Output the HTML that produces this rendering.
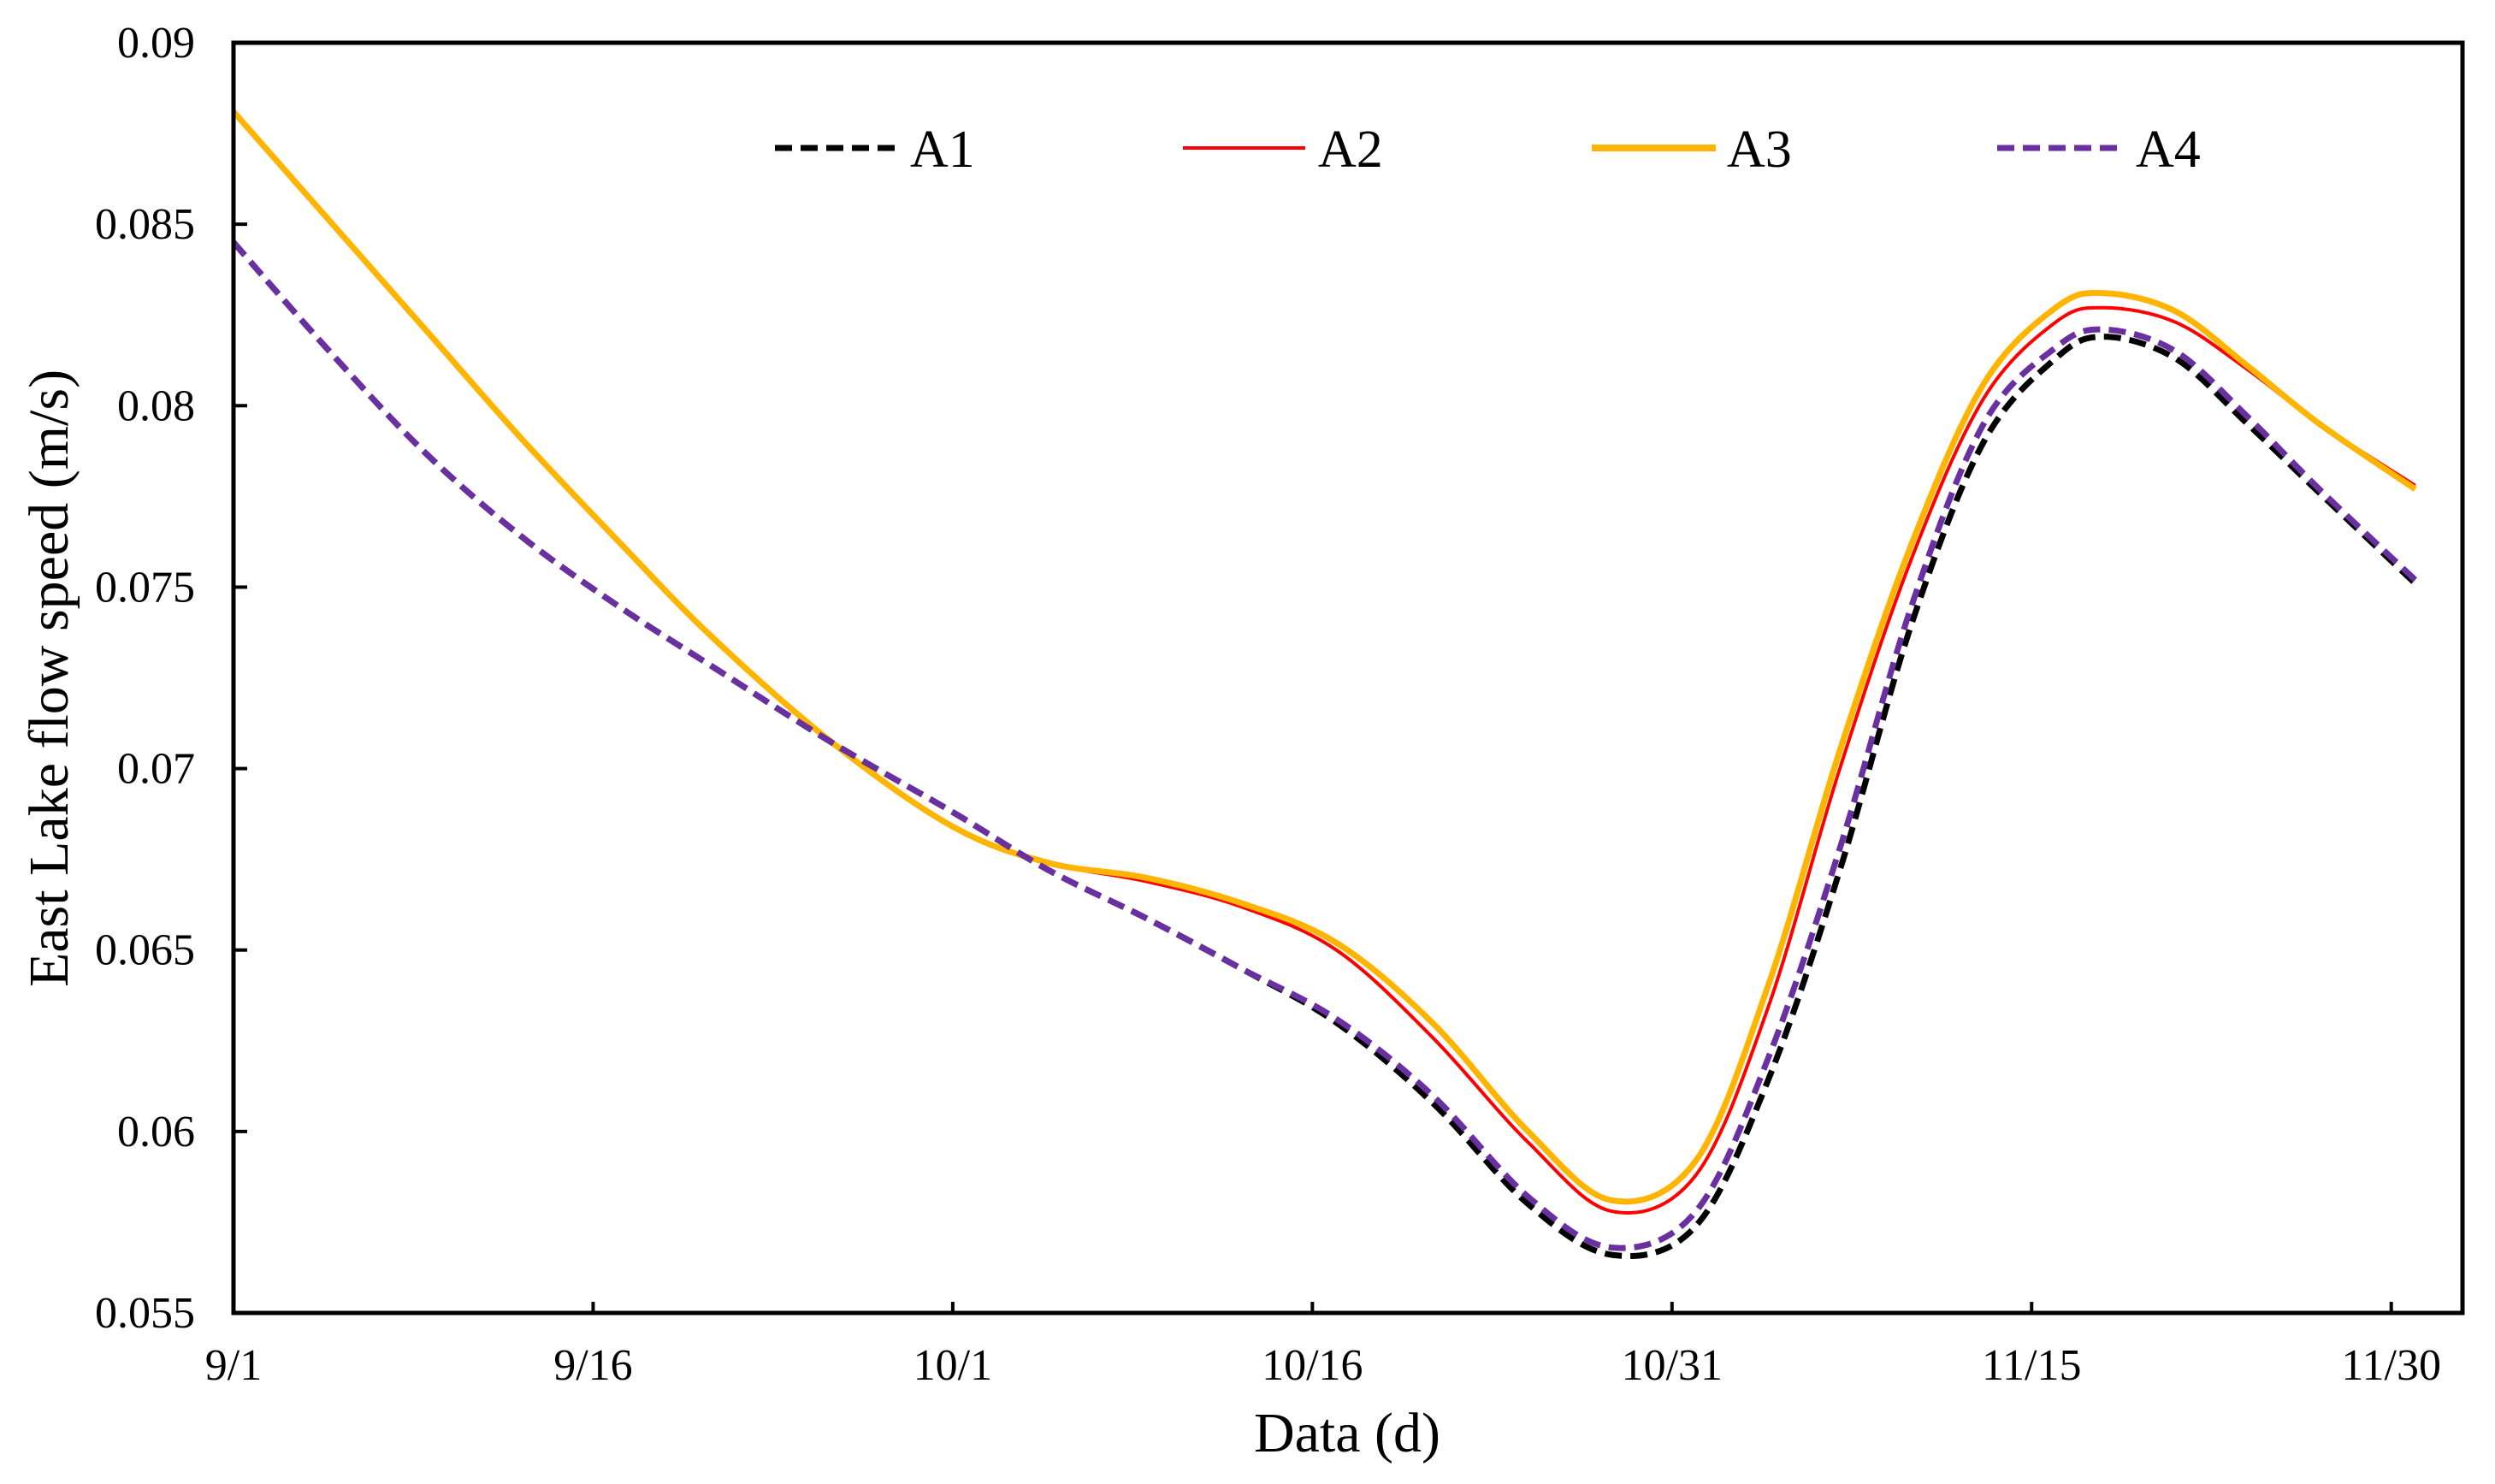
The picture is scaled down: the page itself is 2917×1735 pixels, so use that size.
<!DOCTYPE html>
<html><head><meta charset="utf-8"><style>
html,body{margin:0;padding:0;background:#fff;}
svg{display:block;font-family:"Liberation Serif",serif;}
</style></head><body>
<svg id="chart" width="2917" height="1735" viewBox="0 0 2917 1735">
<rect width="2917" height="1735" fill="#fff"/>
<g id="ticks"></g>
<g id="series"></g>
<rect x="273" y="50" width="2606" height="1485" fill="none" stroke="#000" stroke-width="5"/>
<text x="64" y="793" font-size="66" text-anchor="middle" transform="rotate(-90 64 793)" dominant-baseline="middle">East Lake flow speed (m/s)</text>
<text x="1575" y="1697" font-size="66" text-anchor="middle">Data (d)</text>
<g id="legend"></g>
</svg>
<script>
const days = [0,4,8,12,16,20,25,30,34,38,42,46,50,54,57.5,61,64,67,70,73,76,78,81,84,87,91];
const A1 = [0.0845,0.0815,0.0787,0.0764,0.0745,0.0728,0.0707,0.0688,0.0672,0.0659,0.0645,0.0630,0.0608,0.0580,0.0566,0.0574,0.0614,0.0672,0.0740,0.0790,0.0813,0.0819,0.0813,0.0795,0.0776,0.0751];
const A2 = [0.0881,0.0851,0.0821,0.0791,0.0763,0.0736,0.0707,0.0684,0.0674,0.0669,0.0662,0.0650,0.0626,0.0597,0.0578,0.0588,0.0634,0.0700,0.0758,0.0802,0.0823,0.0827,0.0823,0.0810,0.0795,0.0778];
const A3 = [0.0881,0.0851,0.0821,0.0791,0.0763,0.0736,0.0707,0.0684,0.0674,0.0670,0.0663,0.0652,0.0630,0.0600,0.0581,0.0592,0.0640,0.0705,0.0762,0.0806,0.0827,0.0831,0.0826,0.0811,0.0795,0.0777];
const A4 = [0.0845,0.0815,0.0787,0.0764,0.0745,0.0728,0.0707,0.0688,0.0672,0.0659,0.0645,0.0631,0.0610,0.0582,0.0568,0.0578,0.0620,0.0678,0.0745,0.0795,0.0816,0.0821,0.0815,0.0797,0.0777,0.0752];
const yTicks = [0.055,0.06,0.065,0.07,0.075,0.08,0.085,0.09];
const yTickLabels = ["0.055","0.06","0.065","0.07","0.075","0.08","0.085","0.09"];
const xTickDays = [0,15,30,45,60,75,90];
const xTickLabels = ["9/1","9/16","10/1","10/16","10/31","11/15","11/30"];

const NS="http://www.w3.org/2000/svg";
const X0=273, PX=28.03, Y0=1535, YT=50, VMIN=0.055, VMAX=0.09;
function xs(d){return X0+d*PX;}
function ys(v){return Y0-(v-VMIN)/(VMAX-VMIN)*(Y0-YT);}
function mk(tag,attrs,parent){const e=document.createElementNS(NS,tag);for(const k in attrs)e.setAttribute(k,attrs[k]);parent.appendChild(e);return e;}

const tg=document.getElementById('ticks');
yTicks.forEach((v,i)=>{
  const y=ys(v);
  const t=mk('line',{x1:X0,x2:X0+16,y1:y,y2:y,stroke:'#000','stroke-width':4},tg);
  
  
  const l=mk('text',{x:228,y:y+17,'font-size':52,'text-anchor':'end'},tg);
  l.textContent=yTickLabels[i];
  
  
});
xTickDays.forEach((d,i)=>{
  const x=xs(d);
  const t=mk('line',{x1:x,x2:x,y1:Y0,y2:Y0-13,stroke:'#000','stroke-width':4},tg);
  
  
  const l=mk('text',{x:x,y:1613,'font-size':52,'text-anchor':'middle'},tg);
  l.textContent=xTickLabels[i];
  
  
});

function pathD(vals){
  const p=days.map((d,i)=>[xs(d),ys(vals[i])]);
  let s='M'+p[0][0]+','+p[0][1];
  for(let i=0;i<p.length-1;i++){
    const p0=p[i-1]||p[i],p1=p[i],p2=p[i+1],p3=p[i+2]||p[i+1];
    const c1x=p1[0]+(p2[0]-p0[0])/6,c1y=p1[1]+(p2[1]-p0[1])/6;
    const c2x=p2[0]-(p3[0]-p1[0])/6,c2y=p2[1]-(p3[1]-p1[1])/6;
    s+=' C'+c1x+','+c1y+' '+c2x+','+c2y+' '+p2[0]+','+p2[1];
  }
  return s;
}
const styles=[
  {name:'A2',vals:A2,color:'#FF0000',w:4,dash:''},
  {name:'A3',vals:A3,color:'#FFB400',w:7,dash:''},
  {name:'A1',vals:A1,color:'#000000',w:7,dash:'20,10'},
  {name:'A4',vals:A4,color:'#6A2FA0',w:7,dash:'20,10'}
];
const sg=document.getElementById('series');
styles.forEach(s=>{
  const p=mk('path',{d:pathD(s.vals),fill:'none',stroke:s.color,'stroke-width':s.w,'stroke-dasharray':s.dash,'stroke-linecap':'butt'},sg);
  
  
});

const legendItems=[
  {name:'A1',color:'#000000',w:7,dash:'20,10',x1:906,x2:1055,tx:1064},
  {name:'A2',color:'#FF0000',w:4,dash:'',x1:1383,x2:1526,tx:1541},
  {name:'A3',color:'#FFB400',w:8,dash:'',x1:1861,x2:2006,tx:2019},
  {name:'A4',color:'#6A2FA0',w:7,dash:'20,10',x1:2335,x2:2484,tx:2497}
];
const lg=document.getElementById('legend');
legendItems.forEach(it=>{
  const g=mk('g',{},lg);
  
  
  mk('line',{x1:it.x1,x2:it.x2,y1:173,y2:173,stroke:it.color,'stroke-width':it.w,'stroke-dasharray':it.dash},g);
  const t=mk('text',{x:it.tx,y:195,'font-size':62},g);
  t.textContent=it.name;
});
</script>
</body></html>
